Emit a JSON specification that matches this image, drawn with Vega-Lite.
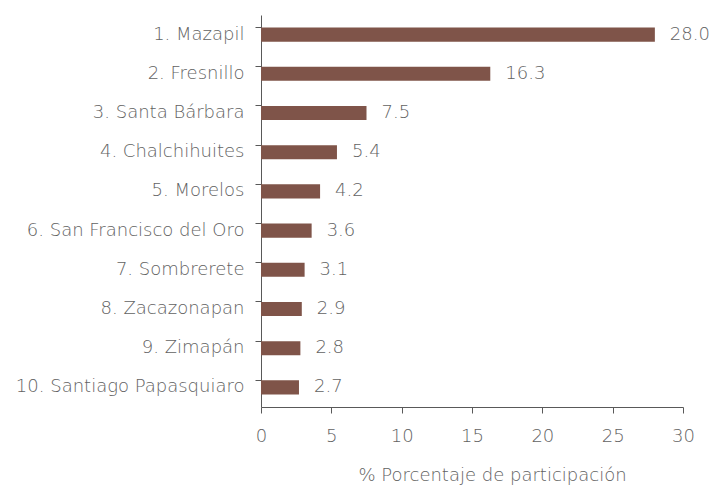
{
  "$schema": "https://vega.github.io/schema/vega-lite/v6.json",
  "autosize": "none",
  "width": 422,
  "height": 392,
  "padding": {"left": 261, "top": 15, "right": 29, "bottom": 80},
  "background": "white",
  "config": {
    "view": {"stroke": null},
    "font": "DejaVu Sans",
    "axis": {"labelFont": "DejaVu Sans", "titleFont": "DejaVu Sans", "labelFontWeight": 200, "titleFontWeight": 200, "labelColor": "#626262", "titleColor": "#626262", "domainColor": "#595959", "tickColor": "#595959", "grid": false}
  },
  "data": {
    "values": [
      {"name": "1. Mazapil", "value": 28.0},
      {"name": "2. Fresnillo", "value": 16.3},
      {"name": "3. Santa Bárbara", "value": 7.5},
      {"name": "4. Chalchihuites", "value": 5.4},
      {"name": "5. Morelos", "value": 4.2},
      {"name": "6. San Francisco del Oro", "value": 3.6},
      {"name": "7. Sombrerete", "value": 3.1},
      {"name": "8. Zacazonapan", "value": 2.9},
      {"name": "9. Zimapán", "value": 2.8},
      {"name": "10. Santiago Papasquiaro", "value": 2.7}
    ]
  },
  "encoding": {
    "y": {
      "field": "name", "type": "nominal", "sort": null,
      "scale": {"paddingInner": 0.64, "paddingOuter": 0.32},
      "axis": {"title": null, "labelFontSize": 18, "labelPadding": 11, "labelLimit": 300, "tickSize": 6, "bandPosition": 0, "domainWidth": 1}
    },
    "x": {
      "field": "value", "type": "quantitative",
      "scale": {"domain": [0, 30], "nice": false},
      "axis": {"values": [0, 5, 10, 15, 20, 25, 30], "title": "% Porcentaje de participación", "labelFontSize": 18, "titleFontSize": 18, "labelFlush": false, "labelPadding": 14, "titlePadding": 21, "titleX": 231, "titleAlign": "center", "tickSize": 6}
    }
  },
  "layer": [
    {"mark": {"type": "bar", "color": "#7f5449"}},
    {"mark": {"type": "text", "align": "left", "dx": 15, "fontSize": 18, "fontWeight": 200, "color": "#626262", "font": "DejaVu Sans"},
     "encoding": {"text": {"field": "value", "type": "quantitative", "format": ".1f"}}}
  ]
}
